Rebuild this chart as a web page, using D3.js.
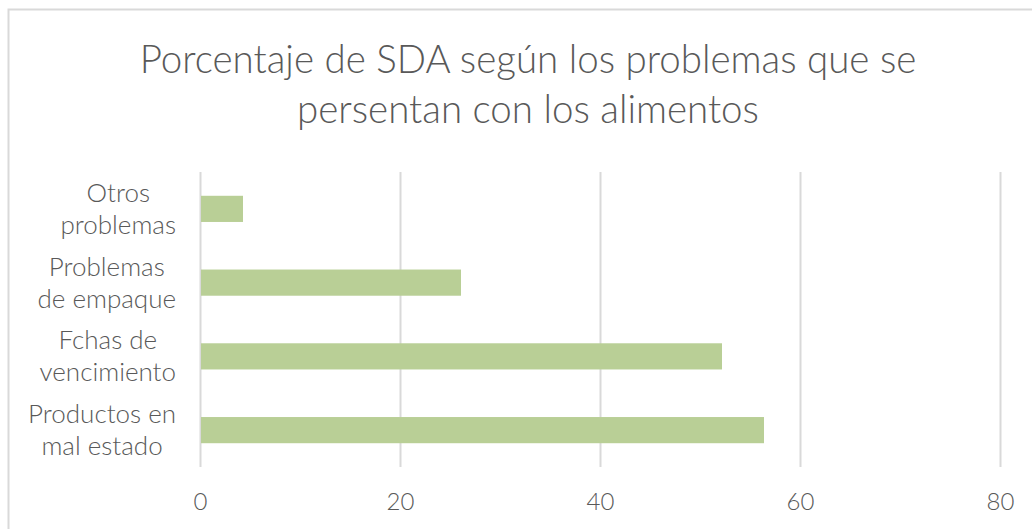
<!DOCTYPE html>
<html>
<head>
<meta charset="utf-8">
<script src="https://cdn.jsdelivr.net/npm/d3@7"></script>
<style>
  html, body { margin: 0; padding: 0; background: #fff; }
  svg { display: block; font-family: Lato, "Open Sans", sans-serif; font-weight: 300; }
</style>
</head>
<body>
<svg id="chart"></svg>
<script>
// data, bottom bar first (as in the sheet)
const categories = ["Productos en\nmal estado", "Fchas de\nvencimiento", "Problemas\nde empaque", "Otros\nproblemas"];
const values = [56.4, 52.2, 26.1, 4.3];
const xTicks = [0, 20, 40, 60, 80];
const titleLines = ["Porcentaje de SDA según los problemas que se", "persentan con los alimentos"];

const width = 1032, height = 529;
const margin = {top: 172, right: 32, bottom: 62, left: 200};
const textColor = '#595959';
const gridColor = '#d9d9d9';
const barColor = '#b9cf96';

const svg = d3.select('#chart')
    .attr('width', width)
    .attr('height', height);

// chart area border
svg.append('rect')
    .attr('x', 8.5)
    .attr('y', 9.5)
    .attr('width', width + 20)
    .attr('height', height + 20)
    .attr('fill', 'none')
    .attr('stroke', gridColor)
    .attr('stroke-width', 2);

// title
svg.append('text')
    .attr('x', 528)
    .attr('text-anchor', 'middle')
    .attr('fill', textColor)
    .attr('font-size', '38.5px')
    .selectAll('tspan')
    .data(titleLines)
    .join('tspan')
    .attr('x', 528)
    .attr('y', (d, i) => 73 + i * 50)
    .text(d => d);

const x = d3.scaleLinear()
    .domain([0, 80])
    .range([margin.left, width - margin.right]);

const y = d3.scaleBand()
    .domain(categories.slice().reverse())
    .range([margin.top, height - margin.bottom])
    .paddingInner(0.645)
    .paddingOuter(0.3225);

// gridlines
svg.append('g')
    .attr('transform', `translate(0, ${height - margin.bottom})`)
    .call(d3.axisBottom(x).tickValues(xTicks).tickSize(-(height - margin.bottom - margin.top)).tickFormat(''))
    .call(g => g.select('.domain').remove())
    .call(g => g.selectAll('line').attr('stroke', gridColor).attr('stroke-width', 2));

// bars
svg.append('g')
    .selectAll('rect')
    .data(categories)
    .join('rect')
    .attr('x', x(0) + 1)
    .attr('y', d => y(d))
    .attr('width', (d, i) => x(values[i]) - x(0) - 1)
    .attr('height', y.bandwidth())
    .attr('fill', barColor);

// x tick labels
svg.append('g')
    .attr('transform', `translate(0, ${height - margin.bottom})`)
    .call(d3.axisBottom(x).tickValues(xTicks).tickSize(0).tickPadding(26))
    .call(g => g.select('.domain').remove())
    .call(g => g.selectAll('text')
        .attr('fill', textColor)
        .attr('font-size', '24px')
        .attr('font-family', 'Lato, "Open Sans", sans-serif')
        .attr('font-weight', 300));

// category labels (two lines, centred in a block right-aligned at x=176)
const labels = svg.append('g')
    .selectAll('text')
    .data(categories)
    .join('text')
    .attr('fill', textColor)
    .attr('font-size', '26px')
    .attr('text-anchor', 'middle');

labels.each(function(d) {
    const t = d3.select(this);
    const cy = y(d) + y.bandwidth() / 2;
    d.split('\n').forEach((line, i) => {
        t.append('tspan')
            .attr('y', cy - 7 + i * 32)
            .text(line);
    });
    const w = d3.max(t.selectAll('tspan').nodes(), n => n.getComputedTextLength());
    t.selectAll('tspan').attr('x', 176 - w / 2);
});
</script>
</body>
</html>
